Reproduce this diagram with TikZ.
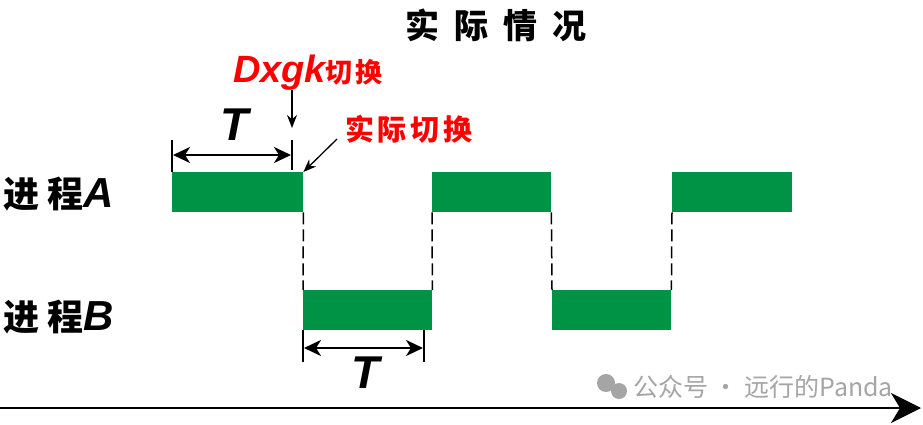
\documentclass[tikz,border=0pt]{standalone}
\usepackage{fontspec}
\setmainfont{Liberation Sans}
\newfontfamily\cjk{Noto Sans CJK SC}
\usetikzlibrary{arrows.meta}
\definecolor{barGreen}{RGB}{0,146,69}
\definecolor{markGray}{RGB}{165,165,165}

\tikzset{
  bar/.style={fill=barGreen, anchor=north west, inner sep=0pt, minimum height=40pt},
  gap/.style={line width=1.5pt, dash pattern=on 12pt off 5pt},
  tick/.style={line width=2.2pt},
  span/.style={line width=2.4pt, {Stealth[length=17pt,width=16pt,inset=5pt]}-{Stealth[length=17pt,width=16pt,inset=5pt]}},
  hint/.style={line width=1.3pt, -{Stealth[length=13pt,width=10pt]}},
  period/.style={font=\fontsize{46}{46}\selectfont\bfseries\itshape}
}

\begin{document}
\begin{tikzpicture}[x=1pt, y=-1pt]
\useasboundingbox (0,0) rectangle (923,425);

\node[font=\cjk\fontsize{34}{34}\selectfont\bfseries] (title) at (496,25) {实\hspace{15pt}际\hspace{15pt}情\hspace{15pt}况};

% labels of the two processes
\node[right, inner sep=0pt] (procA) at (3,194) {\cjk\fontsize{36}{36}\selectfont\bfseries 进\hspace{8pt}程\rmfamily\fontsize{42}{42}\selectfont\bfseries\itshape A};
\node[right, inner sep=0pt] (procB) at (3,317) {\cjk\fontsize{36}{36}\selectfont\bfseries 进\hspace{8pt}程\rmfamily\fontsize{42}{42}\selectfont\bfseries\itshape B};

% bars
\node[bar, minimum width=131pt] (a1) at (172,172) {};
\node[bar, minimum width=119pt] (a2) at (432,172) {};
\node[bar, minimum width=120pt] (a3) at (672,172) {};
\node[bar, minimum width=129pt] (b1) at (303,290) {};
\node[bar, minimum width=119pt] (b2) at (552,290) {};

\draw[gap] (a1.south east) -- (b1.north west);
\draw[gap] (a2.south west) -- (b1.north east);
\draw[gap] (a2.south east) -- (b2.north west);
\draw[gap] (a3.south west) -- (b2.north east);

% period T above
\coordinate (t1) at (172,140);
\coordinate (t2) at (292,140);
\draw[tick] (t1) -- (a1.north west);
\draw[tick] (t2) -- (292,170);
\draw[span] (173,155) -- (291,155);
\node[period] (T1) at (235,125) {T};

% period T below
\coordinate (u1) at (303,362);
\coordinate (u2) at (424,362);
\draw[tick] (b1.south west) -- (u1);
\draw[tick] (424,330) -- (u2);
\draw[span] (304,348) -- (423,348);
\node[period] (T2) at (366,373) {T};

% switch marks
\node[red, inner sep=0pt] (dxgk) at (308,73) {\fontsize{38}{38}\selectfont\bfseries\itshape Dxgk\cjk\fontsize{27}{27}\selectfont\bfseries 切\hspace{3pt}换};
\node[red, inner sep=0pt] (real) at (409,129) {\cjk\fontsize{29}{29}\selectfont\bfseries 实\hspace{4pt}际\hspace{4pt}切\hspace{4pt}换};
\draw[hint] (292,90) -- (292,128);
\draw[hint] (337,139) -- (a1.north east);

% watermark
\fill[markGray] (606,383) circle (9pt);
\fill[markGray] (619,391) circle (8pt);
\node[markGray, right, inner sep=0pt] (mark) at (633,387) {\cjk\fontsize{25}{25}\selectfont 公众号 · 远行的Panda};

% time axis
\coordinate (t0) at (0,408);
\coordinate (tEnd) at (921,408);
\draw[line width=2.8pt, -{Stealth[length=30pt,width=30pt,inset=9pt]}] (t0) -- (tEnd);

\end{tikzpicture}
\end{document}
